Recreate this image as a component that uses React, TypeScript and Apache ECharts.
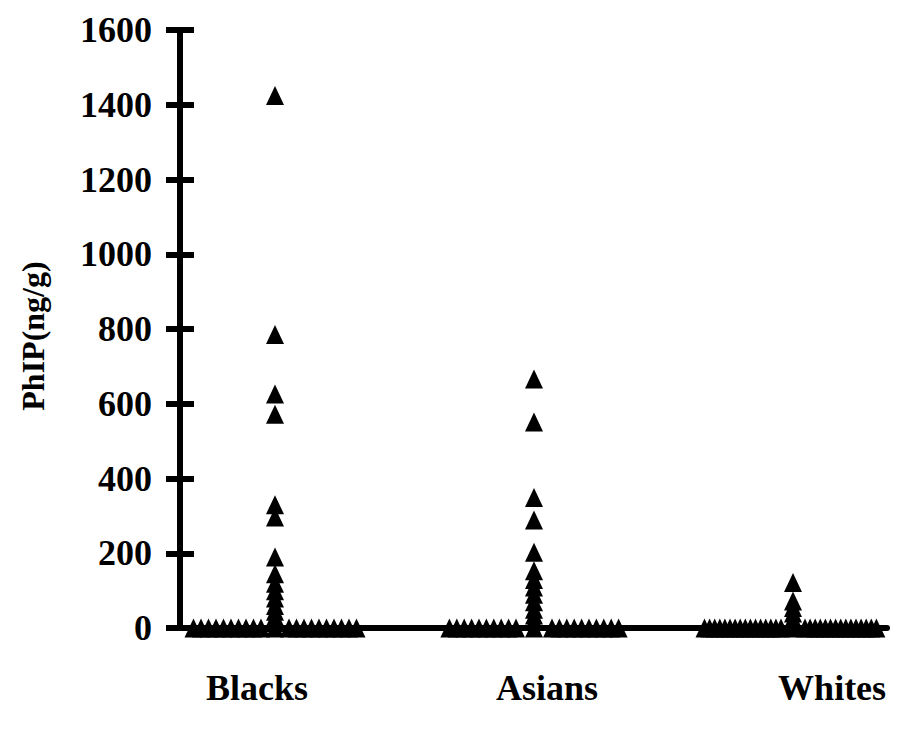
import { useEffect, useRef } from "react";
import * as echarts from "echarts";

// Categories and data (ng/g)
const categories = ["Blacks", "Asians", "Whites"];
const blacksValues = [1425, 785, 626, 572, 330, 297, 190, 145, 120, 100, 80, 60, 45, 30, 15, 0];
const asiansValues = [666, 551, 349, 289, 203, 153, 130, 110, 90, 70, 50, 35, 20, 0];
const whitesValues = [122, 72, 55, 40, 25, 10, 0];
// number of additional zero values spread to the left / right of each column
const zeroCountsLeft = [10, 10, 16];
const zeroCountsRight = [10, 10, 15];
// y-axis ticks
const yMin = 0;
const yMax = 1600;
const yInterval = 200;

// layout (pixels per category unit etc.)
const PX_PER_UNIT = 259;
const zeroRowGap = [14, 18, 12];
const zeroRowStep = [7.5, 7.4, 5.1];
const labelPositions = [-0.0695, 1.05, 2.151];

const FONT = "'Liberation Serif', 'Times New Roman', serif";

export default function App() {
  const ref = useRef<HTMLDivElement>(null);
  useEffect(() => {
    document.body.style.margin = "0";
    const chart = echarts.init(ref.current!, null, { renderer: "svg" });
    const groups = [blacksValues, asiansValues, whitesValues];
    const data: number[][] = [];
    groups.forEach((vals, gi) => {
      vals.forEach((v) => data.push([gi, v]));
      for (let k = 0; k < zeroCountsLeft[gi]; k++) {
        data.push([gi - (zeroRowGap[gi] + zeroRowStep[gi] * k) / PX_PER_UNIT, 0]);
      }
      for (let k = 0; k < zeroCountsRight[gi]; k++) {
        data.push([gi + (zeroRowGap[gi] + zeroRowStep[gi] * k) / PX_PER_UNIT, 0]);
      }
    });
    const left = 180;
    const right = 19;
    const width = 906 - left - right;
    const xMin = -(275 - left) / PX_PER_UNIT;
    const xMax = xMin + width / PX_PER_UNIT;

    chart.setOption({
      animation: false,
      grid: { left, right, top: 30, bottom: 113, containLabel: false },
      xAxis: {
        type: "value",
        min: xMin,
        max: xMax,
        axisLine: { show: true, onZero: false, lineStyle: { color: "#000", width: 6 } },
        axisTick: { show: false },
        splitLine: { show: false },
        axisLabel: {
          customValues: labelPositions,
          formatter: (v: number) => {
            const i = labelPositions.findIndex((p) => Math.abs(p - v) < 1e-6);
            return i >= 0 ? categories[i] : "";
          },
          color: "#000",
          fontFamily: FONT,
          fontWeight: "bold",
          fontSize: 36,
          margin: 42,
        },
      },
      yAxis: [
        {
          type: "value",
          min: yMin,
          max: yMax,
          interval: yInterval,
          name: "PhIP(ng/g)",
          nameLocation: "middle",
          nameGap: 131,
          nameTextStyle: {
            color: "#000",
            fontFamily: FONT,
            fontWeight: "bold",
            fontSize: 32,
            padding: [0, 14, 0, 0],
          },
          axisLine: { show: true, onZero: false, lineStyle: { color: "#000", width: 6 } },
          axisTick: { show: true, length: 14, lineStyle: { color: "#000", width: 6 } },
          splitLine: { show: false },
          axisLabel: {
            color: "#000",
            fontFamily: FONT,
            fontWeight: "bold",
            fontSize: 36,
            margin: 28,
            formatter: (v: number) => String(v),
          },
        },
        {
          type: "value",
          min: yMin,
          max: yMax,
          interval: yInterval,
          position: "left",
          axisLine: { show: false, onZero: false },
          axisTick: { show: true, inside: true, length: 14, lineStyle: { color: "#000", width: 6 } },
          splitLine: { show: false },
          axisLabel: { show: false },
        },
      ],
      series: [
        {
          type: "scatter",
          yAxisIndex: 0,
          symbol: "triangle",
          symbolSize: [18, 19],
          clip: false,
          itemStyle: { color: "#000", opacity: 1 },
          data,
        },
      ],
    });
    return () => chart.dispose();
  }, []);
  return <div ref={ref} style={{ width: 906, height: 741 }} />;
}
